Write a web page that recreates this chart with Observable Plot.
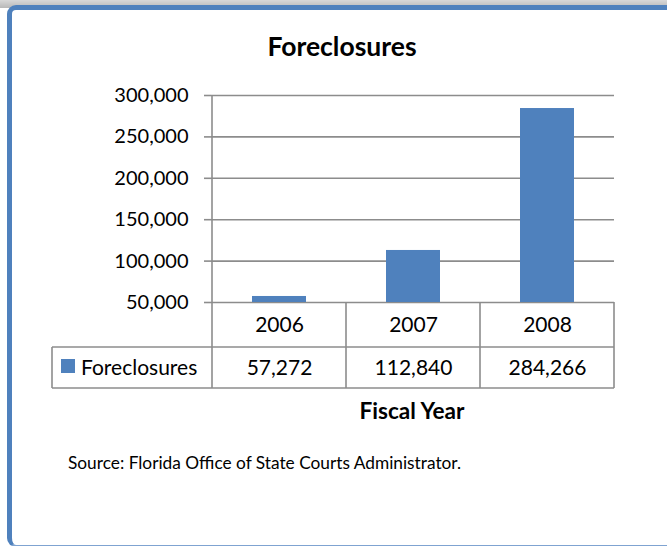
<!DOCTYPE html>
<html>
<head>
<meta charset="utf-8">
<script src="https://cdn.jsdelivr.net/npm/d3@7"></script>
<script src="https://cdn.jsdelivr.net/npm/@observablehq/plot@0.6"></script>
<style>
  html, body { margin: 0; padding: 0; background: #fff; }
  #wrap { position: relative; width: 667px; height: 546px; overflow: hidden; background: #fff; font-family: Lato, "Liberation Sans", sans-serif; }
  #shadow { position: absolute; left: 0; top: 0; width: 700px; height: 8px;
    background: linear-gradient(to bottom, #d8d8d8, #b8b8b8); }
  #frame { position: absolute; left: 7px; top: 5px; width: 700px; height: 535px;
    border: 5px solid #4F81BD; border-bottom: 2px solid #7fa3d1; border-radius: 9px; background: #fff; }
  #chart { position: absolute; left: 0; top: 0; }
  .lbl { position: absolute; white-space: nowrap; color: #000; }
</style>
</head>
<body>
<div id="wrap">
  <div id="shadow"></div>
  <div id="frame"></div>
  <div id="chart"></div>
  <div class="lbl" id="title" style="left:342px; top:56px; transform:translate(-50%,-80%); font-weight:bold; font-size:26.5px;">Foreclosures</div>
  <div class="lbl" id="xlabel" style="left:412px; top:410px; transform:translate(-50%,-50%); font-weight:bold; font-size:22.6px;">Fiscal Year</div>
  <div class="lbl" id="source" style="left:68px; top:462px; transform:translate(0,-50%); font-size:17.3px;">Source: Florida Office of State Courts Administrator.</div>
</div>
<script>
const years = ["2006", "2007", "2008"];
const values = [57272, 112840, 284266];
const yTicks = [50000, 100000, 150000, 200000, 250000, 300000];
const seriesName = "Foreclosures";
const barColor = "#4F81BD";
const lineColor = "#8c8c8c";

const data = years.map((year, i) => ({year, value: values[i]}));
const fmt = d3.format(",");

const plot = Plot.plot({
  width: 667,
  height: 546,
  marginTop: 95,
  marginBottom: 244,
  marginLeft: 211,
  marginRight: 53,
  style: {fontFamily: "Lato, 'Liberation Sans', sans-serif", fontSize: "20px", color: "#000", background: "transparent", overflow: "visible"},
  x: {domain: years, paddingInner: 0.6, paddingOuter: 0.3, axis: null},
  y: {domain: [yTicks[0], yTicks[yTicks.length - 1]], axis: null},
  marks: [
    Plot.gridY(yTicks, {stroke: lineColor, strokeOpacity: 1, strokeWidth: 1.6}),
    Plot.axisY(yTicks, {tickSize: 7, tickPadding: 16, tickFormat: fmt, stroke: lineColor, strokeWidth: 1.6, strokeOpacity: 1, fontSize: 20, fill: "#000", label: null}),
    Plot.barY(data, {x: "year", y: "value", fill: barColor, clip: true}),
    Plot.text(data, {x: "year", text: "year", frameAnchor: "bottom", dy: 23, lineAnchor: "middle", fontSize: 21, fill: "#000"}),
    Plot.text(data, {x: "year", text: d => fmt(d.value), frameAnchor: "bottom", dy: 66, lineAnchor: "middle", fontSize: 21, fill: "#000"})
  ]
});
document.getElementById("chart").appendChild(plot);

// data table grid built from the plot's x band scale
const xs = plot.scale("x");
const gap = (xs.step - xs.bandwidth) / 2;
const colLeft = y => xs.apply(y) - gap;
const colRight = y => xs.apply(y) + xs.bandwidth + gap;
const svg = d3.select(plot);
const g = svg.append("g").attr("stroke", lineColor).attr("stroke-width", 1.6).attr("fill", "none");
const frameTop = 95, frameBottom = 302, rowMid = 347, tableBottom = 388, tableLeft = 52;
const right = colRight(years[years.length - 1]);
g.append("line").attr("x1", colLeft(years[0])).attr("x2", colLeft(years[0])).attr("y1", frameTop).attr("y2", tableBottom);
years.forEach(y => {
  g.append("line").attr("x1", colRight(y)).attr("x2", colRight(y)).attr("y1", frameBottom).attr("y2", tableBottom);
});
g.append("line").attr("x1", tableLeft).attr("x2", right).attr("y1", rowMid).attr("y2", rowMid);
g.append("line").attr("x1", tableLeft).attr("x2", right).attr("y1", tableBottom).attr("y2", tableBottom);
g.append("line").attr("x1", tableLeft).attr("x2", tableLeft).attr("y1", rowMid).attr("y2", tableBottom);
// legend key in the table
svg.append("rect").attr("x", 61).attr("y", 359).attr("width", 14).attr("height", 14).attr("fill", barColor);
svg.append("text").attr("x", 81).attr("y", 367.5).attr("dy", "0.35em").attr("text-anchor", "start")
  .attr("font-size", 21).attr("fill", "#000").text(seriesName);
</script>
</body>
</html>
